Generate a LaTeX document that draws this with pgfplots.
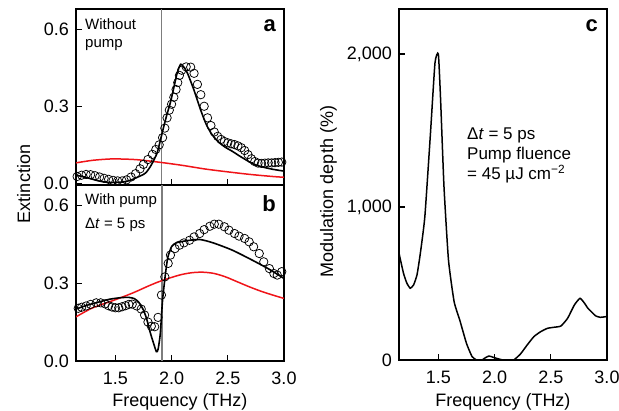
\documentclass[border=0pt]{standalone}
\usepackage{fontspec}
\setmainfont{Liberation Sans}
\usepackage{pgfplots}
\pgfplotsset{compat=1.18}
\definecolor{myred}{RGB}{240,20,25}
\definecolor{vgray}{RGB}{125,125,125}

\pgfplotsset{
  panel/.style={
    scale only axis, width=208pt, anchor=south west,
    xmin=1.15, xmax=3.0,
    axis line style={line width=1.1pt},
    tick align=inside, tick pos=left,
    major tick length=6pt,
    every tick/.style={line width=1.1pt, black},
    tick label style={font=\fontsize{18}{20}\selectfont},
    xticklabel style={inner sep=0pt, anchor=north, yshift=-11pt},
    yticklabel style={inner sep=0pt, anchor=east, xshift=-7pt},
    /pgf/number format/assume math mode=true,
    xtick={1.5,2.0,2.5,3.0},
  },
  fitline/.style={black, line width=1.6pt, smooth, tension=0.4, no marks},
  redline/.style={myred, line width=1.5pt, smooth, no marks},
  circ/.style={only marks, mark=o, mark size=4.2pt, mark options={black, line width=0.75pt}},
  vline/.style={vgray, line width=1.8pt, no marks},
}

\begin{document}
\begin{tikzpicture}
\useasboundingbox (0,0) rectangle (619pt,411pt);

% ---------------- panel a ----------------
\begin{axis}[panel, at={(76pt,226pt)}, height=176pt,
  ymin=-0.006, ymax=0.678,
  ytick={0,0.3,0.6}, yticklabels={0.0,0.3,0.6},
  xticklabels={}]
\addplot[vline] coordinates {(1.91,-0.006) (1.91,0.678)};
\addplot[redline] coordinates {
(1.15,0.080)(1.30,0.090)(1.45,0.095)(1.55,0.095)(1.70,0.092)(1.90,0.082)
(2.10,0.070)(2.30,0.056)(2.50,0.045)(2.70,0.035)(2.90,0.027)(3.00,0.024)};
\addplot[circ] coordinates {
(1.16,0.027)(1.20,0.032)(1.24,0.035)(1.28,0.034)(1.32,0.030)(1.36,0.025)
(1.40,0.020)(1.44,0.016)(1.48,0.012)(1.52,0.010)(1.56,0.010)(1.60,0.014)
(1.64,0.025)(1.68,0.038)(1.72,0.057)(1.75,0.074)(1.79,0.093)(1.83,0.113)
(1.86,0.132)(1.89,0.150)(1.92,0.178)(1.94,0.215)(1.96,0.255)(1.98,0.285)
(2.00,0.308)(2.02,0.335)(2.04,0.365)(2.055,0.392)(2.07,0.420)(2.09,0.440)
(2.13,0.453)(2.17,0.452)(2.20,0.428)(2.23,0.385)(2.26,0.345)(2.29,0.300)
(2.32,0.255)(2.35,0.225)(2.38,0.200)(2.41,0.183)(2.44,0.171)(2.47,0.163)
(2.50,0.158)(2.53,0.154)(2.56,0.151)(2.59,0.146)(2.62,0.139)(2.65,0.128)
(2.68,0.112)(2.71,0.096)(2.74,0.085)(2.77,0.079)(2.80,0.078)(2.83,0.079)
(2.86,0.080)(2.89,0.080)(2.92,0.081)(2.95,0.082)(2.98,0.083)};
\addplot[fitline] coordinates {
(1.15,0.031)(1.20,0.028)(1.25,0.022)(1.30,0.016)(1.35,0.010)(1.40,0.006)
(1.45,0.004)(1.50,0.004)(1.55,0.005)(1.60,0.008)(1.65,0.015)(1.70,0.025)
(1.75,0.035)(1.78,0.046)(1.82,0.072)(1.87,0.117)(1.90,0.167)(1.93,0.220)
(1.96,0.270)(1.99,0.315)(2.02,0.372)(2.05,0.430)(2.08,0.463)(2.10,0.457)
(2.14,0.430)(2.20,0.362)(2.26,0.284)(2.31,0.228)(2.36,0.190)(2.42,0.160)
(2.48,0.140)(2.54,0.125)(2.60,0.108)(2.66,0.092)(2.72,0.077)(2.80,0.065)
(2.90,0.055)(3.00,0.048)};
\end{axis}

% ---------------- panel b ----------------
\begin{axis}[panel, at={(76pt,50pt)}, height=176pt,
  ymin=0, ymax=0.678,
  ytick={0,0.3,0.6}, yticklabels={0.0,0.3,0.6},
  xticklabels={1.5,2.0,2.5,3.0}]
\addplot[vline] coordinates {(1.915,0) (1.915,0.678)};
\addplot[redline] coordinates {
(1.15,0.170)(1.30,0.205)(1.50,0.236)(1.66,0.263)(1.80,0.290)(1.91,0.309)
(2.07,0.331)(2.18,0.340)(2.28,0.342)(2.38,0.337)(2.48,0.324)(2.58,0.306)
(2.69,0.286)(2.80,0.268)(2.90,0.254)(3.00,0.241)};
\addplot[circ] coordinates {
(1.17,0.203)(1.20,0.207)(1.24,0.212)(1.28,0.218)(1.33,0.224)(1.37,0.224)
(1.41,0.220)(1.44,0.213)(1.47,0.208)(1.50,0.205)(1.53,0.205)(1.56,0.209)
(1.59,0.213)(1.62,0.218)(1.65,0.219)(1.69,0.212)(1.73,0.200)(1.76,0.177)
(1.79,0.150)(1.82,0.134)(1.85,0.132)(1.88,0.168)(1.91,0.254)(1.94,0.324)
(1.97,0.376)(1.99,0.408)(2.03,0.433)(2.07,0.446)(2.11,0.455)(2.16,0.465)
(2.20,0.478)(2.25,0.491)(2.29,0.506)(2.34,0.519)(2.38,0.527)(2.42,0.527)
(2.47,0.517)(2.51,0.504)(2.56,0.491)(2.60,0.481)(2.65,0.472)(2.69,0.459)
(2.73,0.440)(2.78,0.414)(2.82,0.382)(2.87,0.356)(2.91,0.337)(2.94,0.331)
(2.98,0.344)};
\addplot[fitline] coordinates {
(1.15,0.200)(1.25,0.215)(1.36,0.228)(1.45,0.238)(1.55,0.244)(1.62,0.245)
(1.67,0.240)(1.71,0.225)(1.75,0.196)(1.78,0.160)(1.81,0.110)(1.84,0.068)
(1.865,0.036)(1.88,0.045)(1.90,0.106)(1.92,0.235)(1.946,0.337)(1.967,0.400)
(2.00,0.440)(2.04,0.455)(2.13,0.463)(2.25,0.468)(2.37,0.455)(2.54,0.427)
(2.72,0.388)(2.87,0.353)(3.00,0.318)};
\end{axis}

% ---------------- panel c ----------------
\begin{axis}[panel, at={(399pt,51pt)}, height=351pt,
  ymin=0, ymax=2294,
  ytick={0,1000,2000}, yticklabels={0,{1,000},{2,000}},
  xticklabels={1.5,2.0,2.5,3.0}]
\addplot[black, line width=1.5pt, smooth, tension=0.3, no marks] coordinates {
(1.15,698)(1.19,567)(1.22,502)(1.25,469)(1.28,491)(1.31,556)(1.34,698)
(1.38,938)(1.43,1483)(1.47,1941)(1.50,2000)(1.52,1701)(1.55,1134)(1.59,654)
(1.64,382)(1.69,262)(1.75,109)(1.80,22)(1.84,0)(1.87,-11)(1.91,11)(1.95,26)
(1.99,17)(2.05,4)(2.11,-4)(2.17,0)(2.23,39)(2.29,98)(2.35,153)(2.41,185)
(2.47,207)(2.53,214)(2.59,222)(2.65,273)(2.71,360)(2.76,403)(2.80,371)
(2.83,338)(2.86,316)(2.90,288)(2.94,279)(3.00,284)};
\end{axis}

% ---------------- texts ----------------
\node[rotate=90, anchor=base, font=\fontsize{18}{20}\selectfont] at (30pt,227pt) {Extinction};
\node[rotate=90, anchor=base, font=\fontsize{18}{20}\selectfont] at (333pt,219.5pt) {Modulation depth (\%)};
\node[anchor=base, font=\fontsize{18}{20}\selectfont] at (180pt,4pt) {Frequency (THz)};
\node[anchor=base, font=\fontsize{18}{20}\selectfont] at (503pt,4pt) {Frequency (THz)};

\node[anchor=base west, inner sep=0pt, font=\fontsize{15}{18}\selectfont] at (85pt,381pt) {Without};
\node[anchor=base west, inner sep=0pt, font=\fontsize{15}{18}\selectfont] at (85pt,363pt) {pump};
\node[anchor=base east, inner sep=0pt, font=\fontsize{22}{24}\selectfont\bfseries] at (276pt,379pt) {a};

\node[anchor=base west, inner sep=0pt, font=\fontsize{15}{18}\selectfont] at (85pt,206pt) {With pump};
\node[anchor=base west, inner sep=0pt, font=\fontsize{15}{18}\selectfont] at (85pt,182.7pt) {Δ\textit{t} = 5 ps};
\node[anchor=base east, inner sep=0pt, font=\fontsize{22}{24}\selectfont\bfseries] at (276pt,199pt) {b};

\node[anchor=base east, inner sep=0pt, font=\fontsize{22}{24}\selectfont\bfseries] at (598pt,379pt) {c};
\node[anchor=base west, inner sep=0pt, font=\fontsize{17}{20}\selectfont] at (467pt,271pt) {Δ\textit{t} = 5 ps};
\node[anchor=base west, inner sep=0pt, font=\fontsize{17}{20}\selectfont] at (467pt,251pt) {Pump fluence};
\node[anchor=base west, inner sep=0pt, font=\fontsize{17}{20}\selectfont] at (467pt,231pt) {= 45 µJ cm\textsuperscript{−2}};
\end{tikzpicture}
\end{document}
